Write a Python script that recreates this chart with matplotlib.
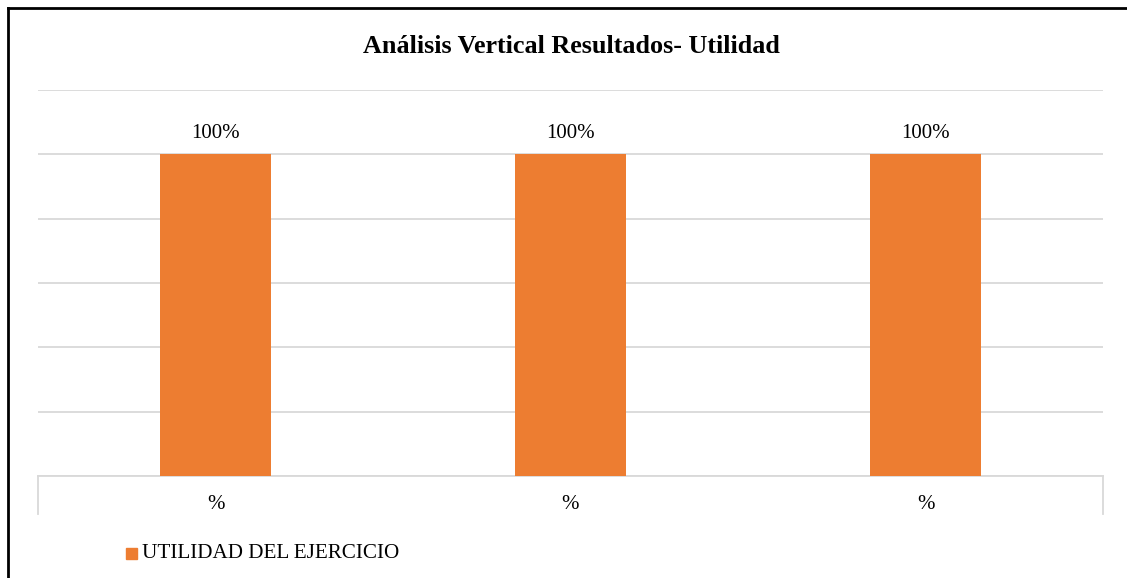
import matplotlib
matplotlib.use("Agg")
import matplotlib.pyplot as plt
from matplotlib.lines import Line2D
from matplotlib.patches import Rectangle
import matplotlib.transforms as mtransforms

# Data
categories = ["%", "%", "%"]
values = [100, 100, 100]
value_labels = ["100%", "100%", "100%"]
series_name = "UTILIDAD DEL EJERCICIO"
title = "Análisis Vertical Resultados- Utilidad"

BAR_COLOR = "#ED7D31"
GRID_COLOR = "#D9D9D9"

plt.rcParams["font.family"] = ["Liberation Serif", "DejaVu Serif"]

W, H = 1127, 578
fig = plt.figure(figsize=(W / 100, H / 100), dpi=100)
ax = fig.add_axes([38 / W, 1 - 476 / H, (1103 - 38) / W, (476 - 90) / H])

x = list(range(len(categories)))
bars = ax.bar(x, values, width=0.31, color=BAR_COLOR, zorder=3)

ax.set_xlim(-0.5, len(categories) - 0.5)
ax.set_ylim(0, 120)
ax.set_yticks(range(0, 121, 20))
ax.yaxis.grid(True, color=GRID_COLOR, linewidth=1.3, zorder=0)
ax.tick_params(axis="y", left=False, labelleft=False)
ax.tick_params(axis="x", bottom=False, labelsize=15, pad=10)
ax.set_xticks(x)
ax.set_xticklabels(categories)
for side in ("left", "right", "top"):
    ax.spines[side].set_visible(False)
ax.spines["bottom"].set_color(GRID_COLOR)
ax.spines["bottom"].set_linewidth(1.3)

for rect, lab in zip(bars, value_labels):
    ax.annotate(lab, (rect.get_x() + rect.get_width() / 2, rect.get_height()),
                xytext=(0, 8), textcoords="offset points",
                ha="center", va="bottom", fontsize=15, color="#000000")

# Category separators below the axis at the outer edges
trans = mtransforms.blended_transform_factory(ax.transData, ax.transAxes)
drop = 38 / (476 - 90)
for xe in (-0.5, len(categories) - 0.5):
    ax.add_line(Line2D([xe, xe], [0, -drop], transform=trans, color=GRID_COLOR,
                       linewidth=1.3, clip_on=False))

fig.text(571 / W, 1 - 46.5 / H, title, ha="center", va="center",
         fontsize=18.8, fontweight="bold")

# Legend
fig.patches.append(Rectangle((126 / W, 1 - 559 / H), 11 / W, 11 / H,
                             transform=fig.transFigure, color=BAR_COLOR))
fig.text(142 / W, 1 - 553 / H, series_name, ha="left", va="center", fontsize=15.2)

# Outer frame (left and top edges)
fig.add_artist(Line2D([8 / W, 8 / W], [0, 1 - 7.5 / H], transform=fig.transFigure,
                      color="black", linewidth=2))
fig.add_artist(Line2D([8 / W, 1], [1 - 7.5 / H, 1 - 7.5 / H], transform=fig.transFigure,
                      color="black", linewidth=2))

fig.savefig("out.png", dpi=100)
